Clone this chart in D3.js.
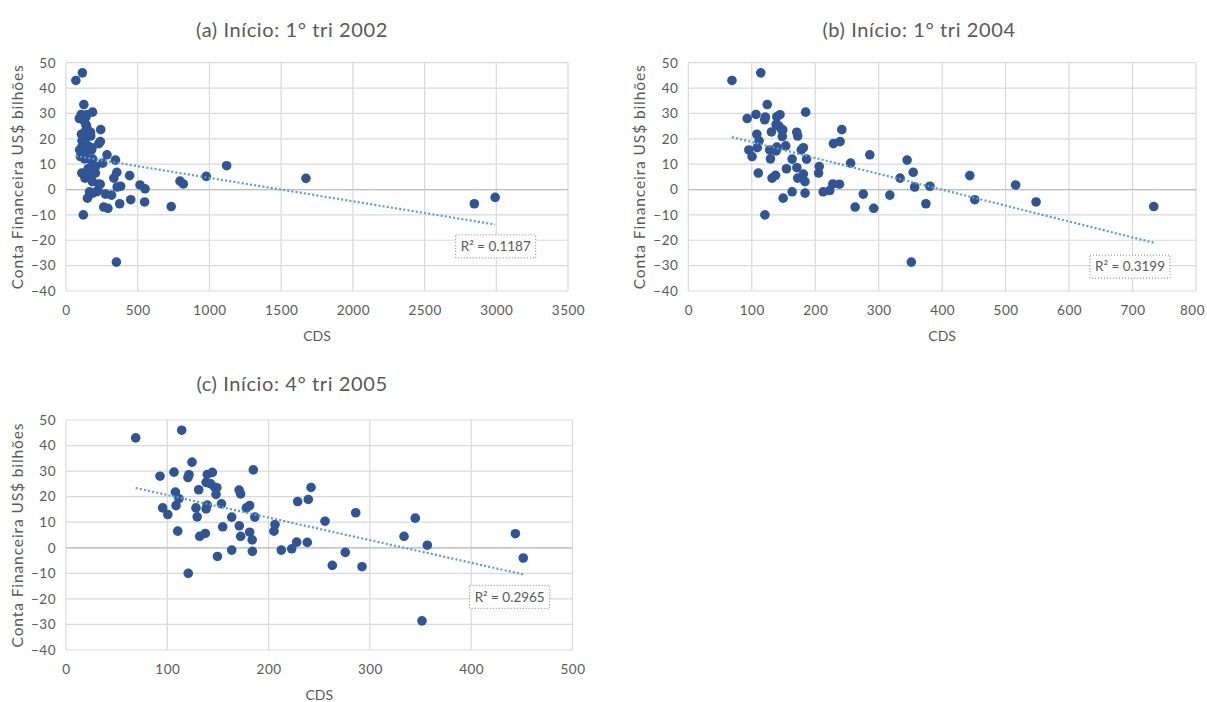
<!DOCTYPE html>
<meta charset="utf-8">
<script src="https://d3js.org/d3.v7.min.js"></script>
<title>CDS x Conta Financeira</title>

<style>
body { margin: 0; background: #fff; font-family: Lato, "Open Sans", sans-serif; }
text { fill: #595959; }
.grid line { stroke: #d9d9d9; stroke-width: 1.2px; }
.zero { stroke: #bfbfbf; stroke-width: 1.2px; }
.dot { fill: #2f5597; }
.trend { fill: none; stroke: #5b9bd5; stroke-width: 2.2px; stroke-dasharray: 2 2.2; }
.r2box { fill: #fff; stroke: #7f7f7f; stroke-width: 1px; stroke-dasharray: 1 2; }
.axis path { display: none; }
.axis line { display: none; }
.axis text { font-family: Lato, sans-serif; font-size: 13.5px; letter-spacing: 0.5px; fill: #595959; }
</style>

<body>
<svg id="chart" width="1207" height="702"></svg>
<script>

// a partir do 4° tri 2005
var cds2005 = [68.8, 114.2, 92.8, 106.6, 124.4, 121.4, 120.4, 108, 111.5, 108.6, 95.4, 100.5, 110.3, 120.7,
  131, 128.3, 129.5, 132, 137.5, 139.5, 144.5, 138.3, 142.8, 146.8, 148.9, 148.1, 139.5, 138.3, 153.5,
  163.6, 154.7, 149.5, 163.6, 170.9, 172.4, 171.1, 172.4, 178, 181.3, 181.3, 183.8, 184, 184.9, 186.4,
  205.3, 206.3, 212.5, 222.8, 228.7, 227.7, 239.2, 241.9, 238.2, 255.7, 262.9, 275.7, 286, 292.2,
  333.7, 344.8, 351.4, 356.7, 443.6, 451.4];
var conta2005 = [43.0, 46.0, 28.0, 29.6, 33.5, 28.6, 27.5, 21.8, 19.2, 16.5, 15.6, 13.0, 6.5, -10.0,
  22.7, 15.6, 12.1, 4.5, 5.6, 28.7, 29.5, 25.6, 25.0, 23.7, 23.5, 20.9, 16.7, 15.2, 17.2,
  12.0, 8.2, -3.4, -0.9, 22.6, 21.1, 8.6, 4.5, 15.6, 16.5, 6.1, 3.1, -1.4, 30.5, 12.0,
  6.5, 9.1, -0.9, -0.4, 18.1, 2.2, 18.9, 23.6, 2.1, 10.4, -6.9, -1.8, 13.7, -7.4,
  4.5, 11.6, -28.6, 1.0, 5.5, -4.0];

// 1° tri 2004 a 3° tri 2005
var cds2004 = [317.6, 354.4, 374.4, 380.7, 515.8, 548, 733.4];
var conta2004 = [-2.2, 6.8, -5.6, 1.3, 1.8, -4.9, -6.7];

// 1° tri 2002 a 4° tri 2003
var cds2002 = [551, 795, 818, 978, 1120, 1673, 2847, 2992];
var conta2002 = [0.3, 3.3, 2.2, 5.2, 9.4, 4.4, -5.6, -3.1];

var yTicks = [-40, -30, -20, -10, 0, 10, 20, 30, 40, 50];
var xTicksA = [0, 500, 1000, 1500, 2000, 2500, 3000, 3500];
var xTicksB = [0, 100, 200, 300, 400, 500, 600, 700, 800];
var xTicksC = [0, 100, 200, 300, 400, 500];

var titles = ["(a) Início: 1° tri 2002", "(b) Início: 1° tri 2004", "(c) Início: 4° tri 2005"];
var r2Labels = ["R² = 0.1187", "R² = 0.3199", "R² = 0.2965"];

function pairs(xs, ys) { return xs.map(function(d, i) { return {cds: d, conta: ys[i]}; }); }

var ptsC = pairs(cds2005, conta2005);
var ptsB = ptsC.concat(pairs(cds2004, conta2004));
var ptsA = ptsB.concat(pairs(cds2002, conta2002));

var svg = d3.select("#chart"),
    svgWidth = +svg.attr("width");

var panels = [
  {data: ptsA, ticks: xTicksA, title: titles[0], r2: r2Labels[0],
   left: 66, right: 568, top: 62.7, bottom: 291, titleX: 292, titleY: 30, yLabX: 18, lab: [2996, -22.4]},
  {data: ptsB, ticks: xTicksB, title: titles[1], r2: r2Labels[1],
   left: 688.3, right: 1196, top: 62.7, bottom: 291, titleX: 919, titleY: 30, yLabX: 640, lab: [696, -30.4]},
  {data: ptsC, ticks: xTicksC, title: titles[2], r2: r2Labels[2],
   left: 66, right: 572.5, top: 420, bottom: 650, titleX: 292, titleY: 384, yLabX: 18, lab: [438, -19.2]}
];

panels.forEach(function(p) {
  var x = d3.scaleLinear()
      .domain([p.ticks[0], p.ticks[p.ticks.length - 1]])
      .range([p.left, p.right]);
  var y = d3.scaleLinear()
      .domain([yTicks[0], yTicks[yTicks.length - 1]])
      .range([p.bottom, p.top]);

  var g = svg.append("g");

  // grid
  var grid = g.append("g").attr("class", "grid");
  grid.selectAll(".h").data(yTicks).enter().append("line")
      .attr("x1", p.left).attr("x2", p.right)
      .attr("y1", function(d) { return y(d); }).attr("y2", function(d) { return y(d); });
  grid.selectAll(".v").data(p.ticks).enter().append("line")
      .attr("y1", p.top).attr("y2", p.bottom)
      .attr("x1", function(d) { return x(d); }).attr("x2", function(d) { return x(d); });

  g.append("line").attr("class", "zero")
      .attr("x1", p.left).attr("x2", p.right)
      .attr("y1", y(0)).attr("y2", y(0));

  // ticks
  g.append("g")
      .attr("class", "axis")
      .attr("transform", "translate(" + p.left + ",0)")
      .call(d3.axisLeft(y).tickValues(yTicks).tickFormat(d3.format("d")).tickSize(0).tickPadding(10));
  var xAxis = g.append("g")
      .attr("class", "axis")
      .attr("transform", "translate(0," + p.bottom + ")")
      .call(d3.axisBottom(x).tickValues(p.ticks).tickFormat(d3.format("d")).tickSize(0).tickPadding(14));
  // keep the last label inside the picture
  xAxis.selectAll(".tick text").each(function() {
    var bb = this.getBBox(), t = this.parentNode.transform.baseVal.consolidate().matrix.e;
    var over = t + bb.x + bb.width - (svgWidth - 2);
    if (over > 0) d3.select(this).attr("x", -over);
  });

  // points
  g.selectAll(".dot").data(p.data).enter().append("circle")
      .attr("class", "dot")
      .attr("r", 4.8)
      .attr("cx", function(d) { return x(d.cds); })
      .attr("cy", function(d) { return y(d.conta); });

  // linear trend (least squares)
  var mx = d3.mean(p.data, function(d) { return d.cds; }),
      my = d3.mean(p.data, function(d) { return d.conta; });
  var sxy = d3.sum(p.data, function(d) { return (d.cds - mx) * (d.conta - my); }),
      sxx = d3.sum(p.data, function(d) { return (d.cds - mx) * (d.cds - mx); });
  var b = sxy / sxx, a = my - b * mx;
  var ext = d3.extent(p.data, function(d) { return d.cds; });
  g.append("path")
      .attr("class", "trend")
      .attr("d", d3.line()([[x(ext[0]), y(a + b * ext[0])], [x(ext[1]), y(a + b * ext[1])]]));

  // R2 label
  var lx = x(p.lab[0]), ly = y(p.lab[1]);
  g.append("rect").attr("class", "r2box")
      .attr("x", lx - 40).attr("y", ly - 11.5)
      .attr("width", 80).attr("height", 23);
  g.append("text")
      .attr("x", lx).attr("y", ly)
      .attr("dy", "0.35em")
      .attr("text-anchor", "middle")
      .style("font-size", "13.5px")
      .text(p.r2);

  // titles
  g.append("text")
      .attr("x", p.titleX).attr("y", p.titleY)
      .attr("dy", "0.35em")
      .attr("text-anchor", "middle")
      .style("font-size", "20px")
      .style("letter-spacing", "0.6px")
      .text(p.title);

  g.append("text")
      .attr("x", (p.left + p.right) / 2).attr("y", p.bottom + 45)
      .attr("dy", "0.35em")
      .attr("text-anchor", "middle")
      .style("font-size", "14px")
      .text("CDS");

  g.append("text")
      .attr("transform", "translate(" + p.yLabX + "," + (p.top + p.bottom) / 2 + ") rotate(-90)")
      .attr("dy", "0.35em")
      .attr("text-anchor", "middle")
      .style("font-size", "15.5px")
      .style("letter-spacing", "0.9px")
      .text("Conta Financeira US$ bilhões");
});

</script>
</body>
